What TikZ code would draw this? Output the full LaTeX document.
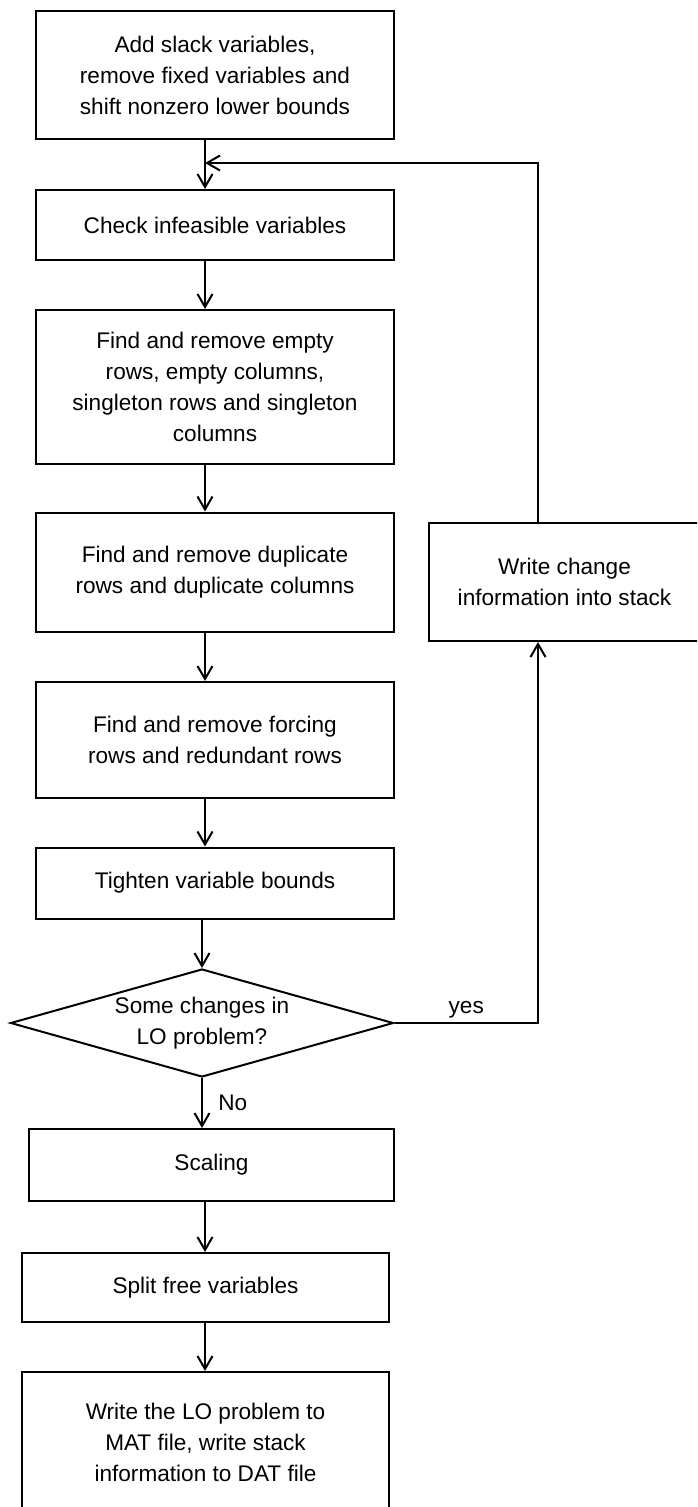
\documentclass[tikz,border=0pt]{standalone}
\usepackage{fontspec}
\setmainfont{Liberation Sans}
\usetikzlibrary{arrows.meta}
\usetikzlibrary{shapes.geometric}

\begin{document}
\begin{tikzpicture}[x=1pt, y=-1pt, line width=2pt,
  font=\fontsize{22.6}{31}\selectfont,
  box/.style={draw, rectangle, align=center, inner sep=0pt},
  decision/.style={draw, diamond, aspect=3.5, align=center, inner sep=0pt},
  flow/.style={-{Straight Barb[length=13pt, width=15pt]}}]
\clip (0,0) rectangle (697,1507);

%main column
\node[box, minimum width=358pt, minimum height=128pt] (add) at (215,75) {Add slack variables,\\remove fixed variables and\\shift nonzero lower bounds};
\node[box, minimum width=358pt, minimum height=70pt] (chk) at (215,225) {Check infeasible variables};
\node[box, minimum width=358pt, minimum height=154pt] (empty) at (215,387) {Find and remove empty\\rows, empty columns,\\singleton rows and singleton\\columns};
\node[box, minimum width=358pt, minimum height=119pt] (dupl) at (215,572) {Find and remove duplicate\\rows and duplicate columns};
\node[box, minimum width=358pt, minimum height=116pt] (force) at (215,740) {Find and remove forcing\\rows and redundant rows};
\node[box, minimum width=358pt, minimum height=71pt] (tight) at (215,883) {Tighten variable bounds};
\node[decision, minimum width=383pt, minimum height=108pt] (dec) at (202,1023) {Some changes in\\LO problem?};
\node[box, minimum width=365pt, minimum height=72pt] (scal) at (211.5,1165) {Scaling};
\node[box, minimum width=367pt, minimum height=69pt] (split) at (205.5,1287.5) {Split free variables};
\node[box, minimum width=367pt, minimum height=140pt] (mat) at (205.5,1442) {Write the LO problem to\\MAT file, write stack\\information to DAT file};

%loop back
\node[box, minimum width=271pt, minimum height=118pt] (stack) at (564.5,582) {Write change\\information into stack};
\coordinate (join) at (205,163);
\coordinate (yes) at (538,1023);

\draw[flow] (add.south -| join) -- (chk.north -| join);
\draw[flow] (chk.south -| join) -- (empty.north -| join);
\draw[flow] (empty.south -| join) -- (dupl.north -| join);
\draw[flow] (dupl.south -| join) -- (force.north -| join);
\draw[flow] (force.south -| join) -- (tight.north -| join);
\draw[flow] (tight.south -| dec.north) -- (dec.north);
\draw[flow] (dec.south) -- node[right=12pt]{No} (scal.north -| dec.south);
\draw[flow] (scal.south -| join) -- (split.north -| join);
\draw[flow] (split.south -| join) -- (mat.north -| join);

\draw[flow] (dec.east) -- node[above]{yes} (yes) -- (stack.south -| yes);
\draw[flow] (stack.north -| yes) |- (join);
\end{tikzpicture}
\end{document}
